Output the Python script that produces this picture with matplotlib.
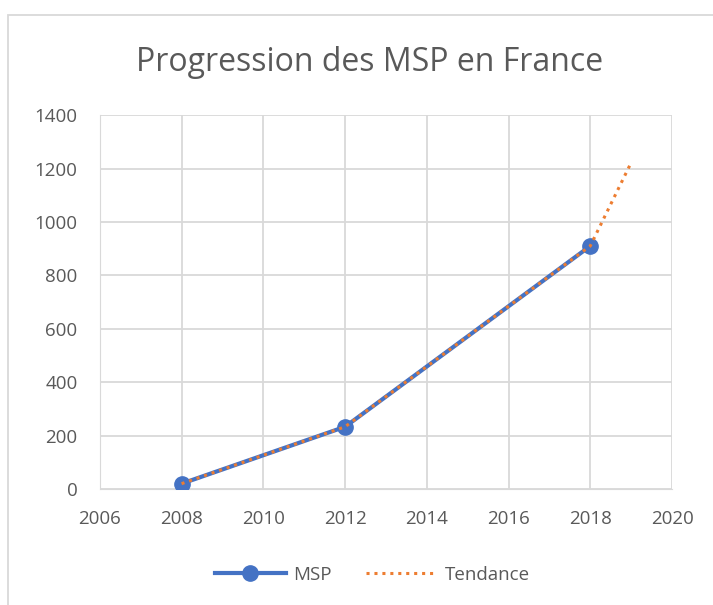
import matplotlib.pyplot as plt
from matplotlib.patches import Rectangle

annees = [2008, 2012, 2018]
msp = [20, 233, 910]
annees_tendance = [2008, 2012, 2018, 2019]
tendance = [20, 233, 910, 1222]

gris = '#595959'
bleu = '#4472C4'
orange = '#ED7D31'

plt.rcParams['font.family'] = ['Open Sans', 'DejaVu Sans']

fig = plt.figure(figsize=(7.13, 6.05), dpi=100)
ax = fig.add_axes([0.140, 0.1917, 0.8025, 0.618])

ax.plot(annees, msp, color=bleu, lw=3, marker='o', ms=11, label='MSP', zorder=3)
ax.plot(annees_tendance, tendance, color=orange, lw=2.2, ls=(0, (1, 1.6)),
        label='Tendance', zorder=4)

ax.set_xlim(2006, 2020)
ax.set_ylim(0, 1400)
ax.set_xticks(range(2006, 2021, 2))
ax.set_yticks(range(0, 1401, 200))
ax.grid(color='#d9d9d9', lw=1.3)
ax.set_axisbelow(True)
for s in ['top', 'right']:
    ax.spines[s].set_visible(False)
ax.spines['left'].set_color('#d9d9d9')
ax.spines['bottom'].set_color('#d9d9d9')
ax.tick_params(length=0, labelsize=13.5, colors=gris)
ax.tick_params(axis='y', pad=16)
ax.tick_params(axis='x', pad=15)

fig.text(0.518, 0.897, 'Progression des MSP en France', ha='center', va='center',
         fontsize=23, color=gris)

fig.legend(loc='center', bbox_to_anchor=(0.522, 0.05), ncol=2, frameon=False,
           fontsize=13.5, labelcolor=gris, handlelength=3.8, handletextpad=0.4,
           columnspacing=1.8)

fig.patches.append(Rectangle((8 / 713, -0.05), 1.2, 1 - 15 / 605 + 0.05,
                             transform=fig.transFigure, fill=False,
                             edgecolor='#d9d9d9', lw=1.3))

fig.savefig('out.png', dpi=100)
